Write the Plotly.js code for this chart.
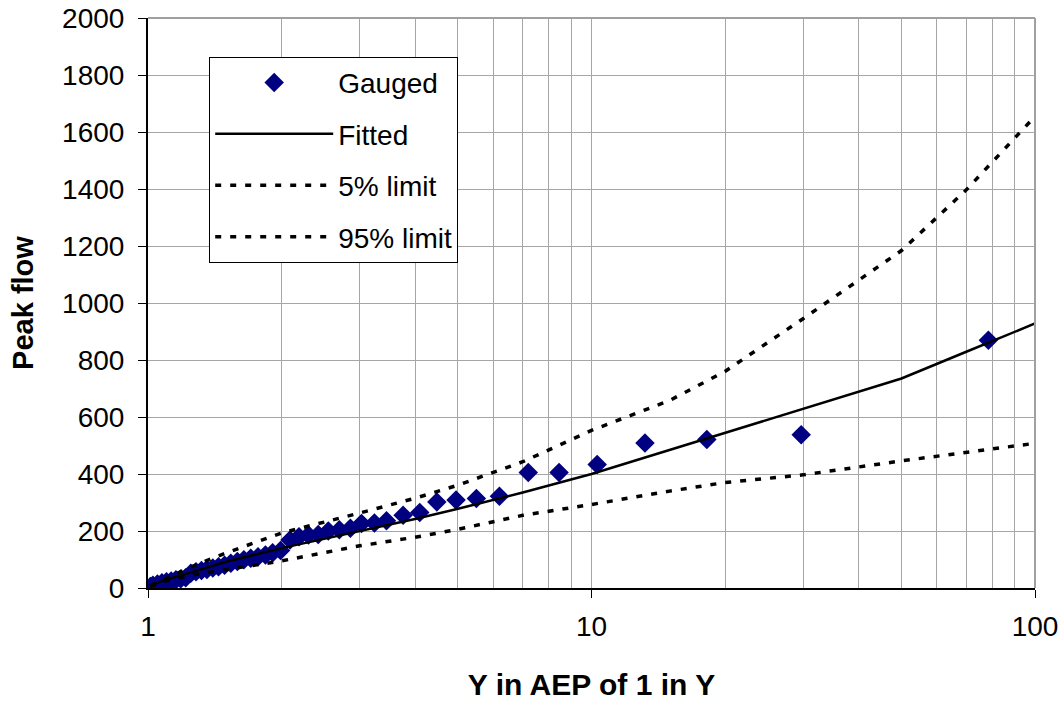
<!DOCTYPE html>
<html>
<head>
<meta charset="utf-8">
<script src="https://cdn.plot.ly/plotly-3.0.1.min.js"></script>
<style>html,body{margin:0;padding:0;background:#fff;}#chart{width:1064px;height:701px;}</style>
</head>
<body>
<div id="chart"></div>
<script>
// Gauged annual maxima: return period Y (1 in Y) and peak flow
const gaugedY = [78.5, 29.7, 18.2, 13.2, 10.3, 8.45, 7.2, 6.2, 5.5, 4.95, 4.48, 4.1, 3.76, 3.45, 3.24, 3.03, 2.86, 2.7, 2.55, 2.42, 2.3, 2.19, 2.09, 1.99, 1.91, 1.84, 1.77, 1.705, 1.645, 1.59, 1.537, 1.488, 1.442, 1.4, 1.358, 1.32, 1.283, 1.249, 1.216, 1.185, 1.156, 1.128, 1.101, 1.075, 1.05, 1.026, 1.012];
const gaugedQ = [869, 538, 521, 509, 433, 405, 405, 322, 314, 309, 302, 265, 255, 236, 228, 226, 210, 204, 200, 188, 186, 180, 168, 132, 124, 116, 110, 104, 99, 93, 87, 80, 75, 70, 65, 61, 57, 52, 36, 32, 29, 25, 22, 18, 14, 10, 5];
// Fitted growth curve and confidence limits
const curveY   = [1.01, 1.1, 1.25, 1.5, 2, 3, 4, 5, 7, 10, 15, 20, 30, 50, 70, 100, 105];
const fittedQ  = [8, 30, 55, 92, 140, 200, 242, 278, 335, 400, 485, 545, 630, 735, 829, 928, 946];
const lower5Q  = [5, 25, 45, 65, 95, 148, 178, 206, 255, 293, 340, 370, 397, 446, 476, 505, 512];
const upper95Q = [8, 35, 74, 123, 193, 263, 315, 361, 443, 553, 658, 760, 945, 1184, 1397, 1655, 1705];
const xTickVals = [1, 10, 100];
const xTickText = ['1', '10', '100'];
const xMinorVals = [2,3,4,5,6,7,8,9,20,30,40,50,60,70,80,90];

const FONT = 'Arial, "Liberation Sans", sans-serif';
const traces = [
  {x: gaugedY, y: gaugedQ, name: 'Gauged', type: 'scatter', mode: 'markers',
   marker: {symbol: 'diamond', size: 15, color: '#000080', line: {width: 0}},
   legendgroup: 'a'},
  {x: curveY, y: fittedQ, name: 'Fitted', type: 'scatter', mode: 'lines',
   line: {color: '#000000', width: 2.5}, legendgroup: 'b'},
  {x: curveY, y: lower5Q, name: '5% limit', type: 'scatter', mode: 'lines',
   line: {color: '#000000', width: 3.5, dash: '6px,9px'}, legendgroup: 'c'},
  {x: curveY, y: upper95Q, name: '95% limit', type: 'scatter', mode: 'lines',
   line: {color: '#000000', width: 3.5, dash: '6px,9px'}, legendgroup: 'd'}
];
const layout = {
  width: 1064, height: 701,
  margin: {l: 148, r: 29, t: 18, b: 113},
  paper_bgcolor: '#ffffff', plot_bgcolor: '#ffffff',
  font: {family: FONT, color: '#000000', size: 26},
  showlegend: true,
  legend: {x: 0.069, y: 0.932, xanchor: 'left', yanchor: 'top',
    bgcolor: '#ffffff', bordercolor: '#000000', borderwidth: 1,
    font: {family: FONT, size: 28, color: '#000'}, traceorder: 'grouped',
    tracegroupgap: 12, itemwidth: 118},
  xaxis: {type: 'log', range: [0, 2], tickmode: 'array', tickvals: xTickVals, ticktext: xTickText,
    showgrid: true, gridcolor: '#a6a6a6', gridwidth: 1,
    minor: {tickmode: 'array', tickvals: xMinorVals, showgrid: true, gridcolor: '#a6a6a6', gridwidth: 1, ticklen: 0},
    ticks: 'outside', ticklen: 8, tickcolor: '#000', tickwidth: 1,
    showline: true, linecolor: '#000', linewidth: 2, mirror: false, zeroline: false,
    tickfont: {family: FONT, size: 28}, ticklabelstandoff: 4,
    title: {text: '<b>Y in AEP of 1 in Y</b>', font: {family: FONT, size: 30}, standoff: 36}},
  yaxis: {range: [0, 2000], dtick: 200, tick0: 0,
    showgrid: true, gridcolor: '#a6a6a6', gridwidth: 1,
    ticks: 'outside', ticklen: 8, tickcolor: '#000', tickwidth: 1,
    showline: true, linecolor: '#000', linewidth: 2, zeroline: false,
    tickfont: {family: FONT, size: 28}, ticklabelstandoff: 8,
    title: {text: '<b>Peak flow</b>', font: {family: FONT, size: 29}, standoff: 20}},
  shapes: [
    {type: 'line', xref: 'paper', yref: 'paper', x0: 0, x1: 1, y0: 1, y1: 1, line: {color: '#a0a0a0', width: 2}},
    {type: 'line', xref: 'paper', yref: 'paper', x0: 1, x1: 1, y0: 0, y1: 1, line: {color: '#a0a0a0', width: 2}}
  ]
};
Plotly.newPlot('chart', traces, layout, {displayModeBar: false, staticPlot: true});
</script>
</body>
</html>
